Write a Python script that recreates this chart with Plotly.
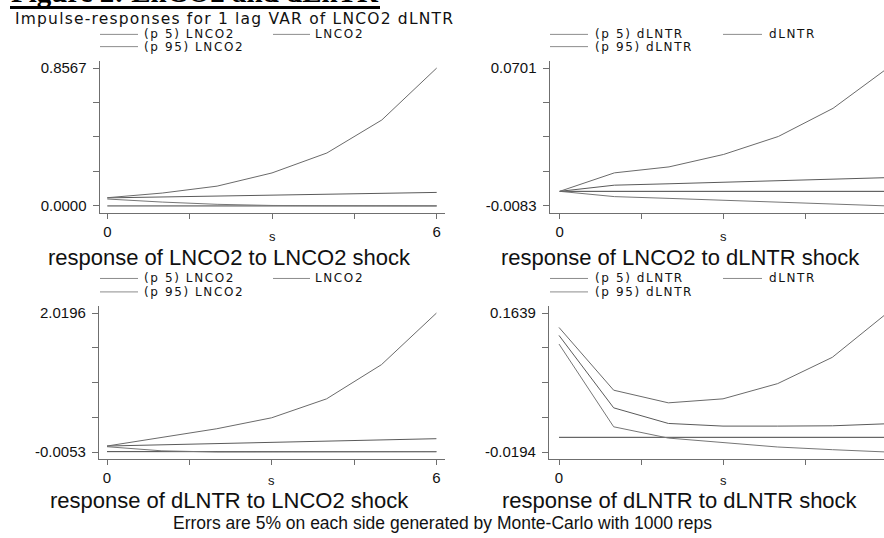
import plotly.graph_objects as go

W, H = 884, 538

steps = [0, 1, 2, 3, 4, 5, 6]
x_ticks = [0, 1.5, 3, 4.5, 6]

# response of LNCO2 to LNCO2 shock
co2_co2_p5 = [0.043, 0.024, 0.010, 0.003, 0.0015, 0.0008, 0.0004]
co2_co2 = [0.050, 0.056, 0.061, 0.067, 0.072, 0.078, 0.084]
co2_co2_p95 = [0.051, 0.080, 0.123, 0.205, 0.329, 0.534, 0.8567]

# response of LNCO2 to dLNTR shock
co2_tr_p5 = [0.0, -0.0030, -0.0040, -0.0050, -0.0061, -0.0072, -0.0083]
co2_tr = [0.0, 0.0035, 0.0043, 0.0051, 0.0059, 0.0067, 0.0078]
co2_tr_p95 = [0.0, 0.0105, 0.0139, 0.0210, 0.0312, 0.0472, 0.0701]

# response of dLNTR to LNCO2 shock
tr_co2_p5 = [0.072, 0.012, -0.0053, -0.0040, -0.0025, -0.0012, -0.0005]
tr_co2 = [0.082, 0.100, 0.118, 0.136, 0.153, 0.171, 0.189]
tr_co2_p95 = [0.082, 0.205, 0.334, 0.494, 0.770, 1.269, 2.0196]

# response of dLNTR to dLNTR shock
tr_tr_p5 = [0.1231, 0.0139, -0.0010, -0.0071, -0.0128, -0.0163, -0.0194]
tr_tr = [0.1345, 0.0389, 0.0183, 0.0148, 0.0148, 0.0152, 0.0179]
tr_tr_p95 = [0.1450, 0.0622, 0.0455, 0.0508, 0.0709, 0.1056, 0.1639]

panel_titles = [
    "response of LNCO2 to LNCO2 shock",
    "response of LNCO2 to dLNTR shock",
    "response of dLNTR to LNCO2 shock",
    "response of dLNTR to dLNTR shock",
]
impulse_names = ["LNCO2", "dLNTR", "LNCO2", "dLNTR"]

fig_title = "Figure 2: LnCO2 and dLnTR"
subtitle = "Impulse-responses for 1 lag VAR of LNCO2 dLNTR"
footnote = "Errors are 5% on each side generated by Monte-Carlo with 1000 reps"

series = [
    (co2_co2_p5, co2_co2, co2_co2_p95),
    (co2_tr_p5, co2_tr, co2_tr_p95),
    (tr_co2_p5, tr_co2, tr_co2_p95),
    (tr_tr_p5, tr_tr, tr_tr_p95),
]

# ---- layout geometry in pixels ----
SANS = "Liberation Sans, Arial, sans-serif"
WIDE = "DejaVu Sans, Verdana, sans-serif"
AXIS_COL = "#6f6f6f"
LINE_COLS = {"p5": "#767676", "est": "#5a5a5a", "p95": "#6a6a6a", "zero": "#444444"}

# (axis-left px, first-step px, px per step, axis-top px, axis-bottom px)
geom = [
    (99.7, 107.3, 54.9, 60.0, 213.0),
    (549.7, 559.7, 54.67, 60.0, 213.0),
    (99.0, 107.0, 54.9, 306.0, 460.0),
    (549.0, 559.0, 54.67, 306.0, 460.0),
]
right_edge = [445.0, W, 445.0, W]
title_cx = [229, 680, 229, 680]
s_label_y = [236, 236, 481, 481]
title_y = [257, 257, 501, 501]
legend_rows = [(33.5, 45.8), (33.5, 45.8), (278.5, 292.0), (278.5, 292.0)]
left_keys = (100, 138, 143, 273, 310, 314)
right_keys = (550, 588, 594, 723, 762, 768)
legend_cols = [left_keys, right_keys, left_keys, right_keys]

PAD_PX = 7.3  # vertical breathing room above/below the data


def px_x(v):
    return v / W


def px_y(v):
    return 1 - v / H


def spaced(text, px):
    return f'<span style="letter-spacing:{px}px">{text}</span>'


fig = go.Figure()
annotations = []
shapes = []

for i, (p5, est, p95) in enumerate(series):
    ax = "" if i == 0 else str(i + 1)
    xa, ya = "x" + ax, "y" + ax
    left, x0px, per, top, bottom = geom[i]
    right = right_edge[i]

    ymin = min(min(p5), min(est), min(p95), 0.0)
    ymax = max(max(p5), max(est), max(p95), 0.0)
    span_px = (bottom - top) - 2 * PAD_PX
    unit = (ymax - ymin) / span_px
    yr = [ymin - PAD_PX * unit, ymax + PAD_PX * unit]
    xr = [-(x0px - left) / per, (right - x0px) / per]

    zero = [0.0 for _ in steps]
    for ys, key in ((zero, "zero"), (p5, "p5"), (est, "est"), (p95, "p95")):
        fig.add_trace(go.Scatter(
            x=steps, y=ys, mode="lines", xaxis=xa, yaxis=ya,
            line=dict(color=LINE_COLS[key], width=1), hoverinfo="skip",
            showlegend=False,
        ))

    yticks = [ymin + k * (ymax - ymin) / 4 for k in range(5)]
    ytext = [f"{ymin:.4f}", "", "", "", f"{ymax:.4f}"]

    fig.layout["xaxis" + ax] = dict(
        domain=[px_x(left), px_x(right)], range=xr, anchor=ya,
        showline=True, linecolor=AXIS_COL, linewidth=1.3, mirror=False,
        ticks="outside", ticklen=5, tickwidth=1, tickcolor=AXIS_COL,
        tickvals=x_ticks, ticktext=["0", "", "", "", "6"],
        tickfont=dict(family=SANS, size=15, color="#111"),
        showgrid=False, zeroline=False, fixedrange=True,
    )
    fig.layout["yaxis" + ax] = dict(
        domain=[px_y(bottom), px_y(top)], range=yr, anchor=xa,
        showline=True, linecolor=AXIS_COL, linewidth=1.3,
        ticks="outside", ticklen=6, tickwidth=1, tickcolor=AXIS_COL,
        tickvals=yticks, ticktext=ytext, ticklabelstandoff=3,
        tickfont=dict(family=SANS, size=15, color="#111"),
        showgrid=False, zeroline=False, fixedrange=True,
    )

    # axis title "s" centred on the step range
    annotations.append(dict(
        x=3, xref=xa, y=px_y(s_label_y[i]), yref="paper", text="s",
        showarrow=False, xanchor="center", yanchor="middle", borderpad=0,
        font=dict(family=SANS, size=13, color="#111"),
    ))
    # panel caption
    annotations.append(dict(
        x=px_x(title_cx[i]), xref="paper", y=px_y(title_y[i]), yref="paper",
        text=panel_titles[i], showarrow=False, xanchor="center", yanchor="middle",
        borderpad=0, font=dict(family=SANS, size=22, color="#111"),
    ))

    # legend: two columns, three keys
    name = impulse_names[i]
    r1, r2 = legend_rows[i]
    a0, a1, at, b0, b1, bt = legend_cols[i]
    keys = [(a0, a1, at, r1, f"(p 5) {name}", "p5"),
            (b0, b1, bt, r1, name, "est"),
            (a0, a1, at, r2, f"(p 95) {name}", "p95")]
    for k0, k1, kt, ky, label, key in keys:
        shapes.append(dict(
            type="line", xref="paper", yref="paper",
            x0=px_x(k0), x1=px_x(k1), y0=px_y(ky), y1=px_y(ky),
            line=dict(color="#8c8c8c", width=1),
        ))
        annotations.append(dict(
            x=px_x(kt), xref="paper", y=px_y(ky), yref="paper",
            text=spaced(label, 1.6), borderpad=0,
            showarrow=False, xanchor="left", yanchor="middle",
            font=dict(family=WIDE, size=12, color="#111"),
        ))

# figure heading (runs off the top edge) with its underline
annotations.append(dict(
    x=px_x(9), xref="paper", y=px_y(-9.5), yref="paper", text=f"<b>{fig_title}</b>",
    showarrow=False, xanchor="left", yanchor="middle",
    font=dict(family="Liberation Serif, Times New Roman, serif", size=29, color="#000"),
))
shapes.append(dict(
    type="line", xref="paper", yref="paper",
    x0=px_x(10), x1=px_x(380), y0=px_y(6.5), y1=px_y(6.5),
    line=dict(color="#000", width=3),
))
annotations.append(dict(
    x=px_x(14), xref="paper", y=px_y(18.5), yref="paper", text=spaced(subtitle, 1.2),
    showarrow=False, xanchor="left", yanchor="middle", borderpad=0,
    font=dict(family=WIDE, size=15.5, color="#111"),
))
annotations.append(dict(
    x=px_x(442), xref="paper", y=px_y(524), yref="paper", text=footnote,
    showarrow=False, xanchor="center", yanchor="middle", borderpad=0,
    font=dict(family=SANS, size=17.5, color="#111"),
))

fig.update_layout(
    width=W, height=H, margin=dict(l=0, r=0, t=0, b=0),
    paper_bgcolor="white", plot_bgcolor="white", showlegend=False,
    annotations=annotations, shapes=shapes,
)

fig.write_html("out.html")
